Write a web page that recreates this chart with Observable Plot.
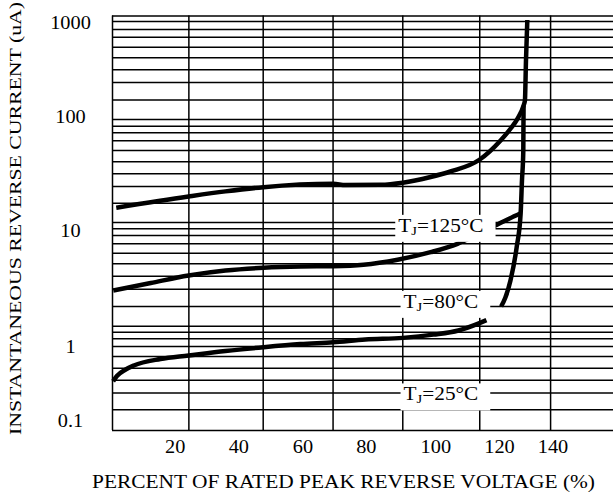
<!DOCTYPE html>
<html><head><meta charset="utf-8">
<script src="https://cdn.jsdelivr.net/npm/d3@7"></script>
<script src="https://cdn.jsdelivr.net/npm/@observablehq/plot@0.6"></script>
<style>html,body{margin:0;padding:0;background:#fff;} svg{display:block}</style>
</head><body><div id="chart"></div>
<script>
// ---- data ----
const xTicks = [20, 40, 60, 80, 100, 120, 140];
const yTicks = [0.1, 1, 10, 100, 1000];
const yTickLabels = ["0.1", "1", "10", "100", "1000"];
const xTitle = "PERCENT OF RATED PEAK REVERSE VOLTAGE (%)";
const yTitle = "INSTANTANEOUS REVERSE CURRENT (uA)";

// grid lines (values, as drawn on the sheet)
const vGrid = [0, 24.3, 47.6, 69.5, 90.5, 113.8, 139.1];
const hGrid = [1192, 1042, 858, 710, 557, 430, 321, 235, 153, 96, 83.9, 73.3, 62.4, 51.3, 40.8, 32, 24.7, 17.6,
  11.9, 10.5, 9.18, 7.79, 6.47, 5.24, 4.1, 3.17, 2.25, 1.52, 1.35, 1.19, 1.02, 0.755, 0.524, 0.36, 0.241, 0.143, 0.0748];

// curves
const pct125 = [1.2, 24.2, 35.8, 47.7, 69.6, 73.4, 84.1, 90.5, 98.5, 104.6, 113.7, 120.4, 124.1, 126.7, 129.0, 129.5, 129.9, 130.4];
const cur125 = [16.1, 20.2, 22.4, 24.4, 26.1, 25.5, 25.6, 26.7, 30.0, 33.5, 42.5, 62.8, 79.6, 97.4, 134, 151, 402, 1081];
const pct80 = [0.25, 12.2, 24.2, 35.8, 47.7, 59.2, 69.6, 79.1, 89.0, 98.5, 106.8, 112.8, 118.7, 123.0, 127.9];
const cur80 = [3.09, 3.59, 4.16, 4.59, 4.85, 4.97, 5.0, 5.14, 5.68, 6.60, 7.79, 9.28, 11.2, 12.7, 14.4];
const pct25 = [0.2, 1.4, 4.2, 6.8, 15.3, 24.2, 35.8, 47.7, 59.2, 69.6, 79.7, 90.5, 99.3, 107.1, 113.7, 115.9, null,
  120.6, 122.2, 124.1, 126.4, 127.9, 128.4, 128.9, 129.0];
const cur25 = [0.349, 0.41, 0.503, 0.57, 0.698, 0.779, 0.897, 1.006, 1.07, 1.11, 1.17, 1.21, 1.29, 1.40, 1.62, 1.72, null,
  2.25, 2.69, 3.77, 7.24, 14.3, 27.9, 51.3, 134];

const labelText = ["TJ=125°C", "TJ=80°C", "TJ=25°C"];
const labelPct = [101.6, 101.6, 101.6];
const labelCur = [11.2, 2.48, 0.2325];

// ---- build ----
const rows = (p, c) => p.map((v, i) => ({p: v, c: c[i]}));
const serif = "'Liberation Serif', 'Times New Roman', serif";
const lineOpts = {x: "p", y: "c", stroke: "#000", strokeWidth: 4.5, strokeLinecap: "butt", curve: "monotone-x"};

const svg = Plot.plot({
  width: 613, height: 495,
  marginLeft: 112, marginRight: 0, marginTop: 15.5, marginBottom: 65,
  style: {fontFamily: serif, background: "#fff", color: "#000"},
  x: {type: "linear", domain: [0, 20, 40, 60, 80, 100, 120, 140],
      range: [112, 174.7, 238.3, 302.5, 365.8, 435.3, 499, 552.5], axis: null},
  y: {type: "log", domain: [0.1, 1, 10, 100, 1000],
      range: [420.7, 347, 230.7, 117, 22.7], axis: null},
  marks: [
    Plot.ruleY(hGrid, {stroke: "#000", strokeWidth: 1.5}),
    Plot.ruleX(vGrid, {stroke: "#000", strokeWidth: 1.5}),
    Plot.line(rows(pct125, cur125), lineOpts),
    Plot.line(rows(pct80, cur80), lineOpts),
    Plot.line(rows(pct25, cur25), lineOpts),
    Plot.text(xTicks, {x: d => d, text: d => String(d), frameAnchor: "bottom", dy: 22.5, fontSize: 18, fill: "#000"}),
    Plot.text(yTicks, {y: d => d, text: (d, i) => yTickLabels[i], frameAnchor: "left", dx: -42, textAnchor: "middle", fontSize: 18, fill: "#000"}),
    Plot.text(labelText.map((t, i) => ({t, p: labelPct[i], c: labelCur[i]})), {x: "p", y: "c", text: "t", fontSize: 19.5, fill: "#000"})
  ]
});
document.getElementById("chart").append(svg);

const NS = "http://www.w3.org/2000/svg";
function el(tag, attrs, txt) {
  const e = document.createElementNS(NS, tag);
  for (const k in attrs) e.setAttribute(k, attrs[k]);
  if (txt != null) e.textContent = txt;
  return e;
}

// stretch serif texts horizontally, subscript J in labels, white boxes behind labels
svg.querySelectorAll("text").forEach(t => {
  const s = t.textContent;
  if (s.startsWith("TJ=")) {
    t.textContent = "";
    t.append(el("tspan", {}, "T"));
    t.append(el("tspan", {"font-size": "13.5px", dy: "3"}, "J"));
    t.append(el("tspan", {dy: "-3"}, s.slice(2)));
    const L = t.getComputedTextLength();
    t.setAttribute("textLength", (L * 1.09).toFixed(1));
    t.setAttribute("lengthAdjust", "spacingAndGlyphs");
    const b = t.getBBox();
    const r = el("rect", {x: b.x - 3, y: b.y, width: b.width + 15, height: b.height + 4, fill: "#fff"});
    const tr = t.getAttribute("transform");
    if (tr) r.setAttribute("transform", tr);
    t.parentNode.insertBefore(r, t);
  } else {
    const L = t.getComputedTextLength();
    t.setAttribute("textLength", (L * 1.13).toFixed(1));
    t.setAttribute("lengthAdjust", "spacingAndGlyphs");
  }
});

// axis titles
svg.append(el("text", {x: 343.5, y: 488.3, "text-anchor": "middle", "font-size": "18.5px",
  "font-family": serif, fill: "#000", textLength: 503, lengthAdjust: "spacingAndGlyphs"}, xTitle));
svg.append(el("text", {transform: "translate(20.7,218.5) rotate(-90)", "text-anchor": "middle", "font-size": "17.5px",
  "font-family": serif, fill: "#000", textLength: 433, lengthAdjust: "spacingAndGlyphs"}, yTitle));
</script>
</body></html>
